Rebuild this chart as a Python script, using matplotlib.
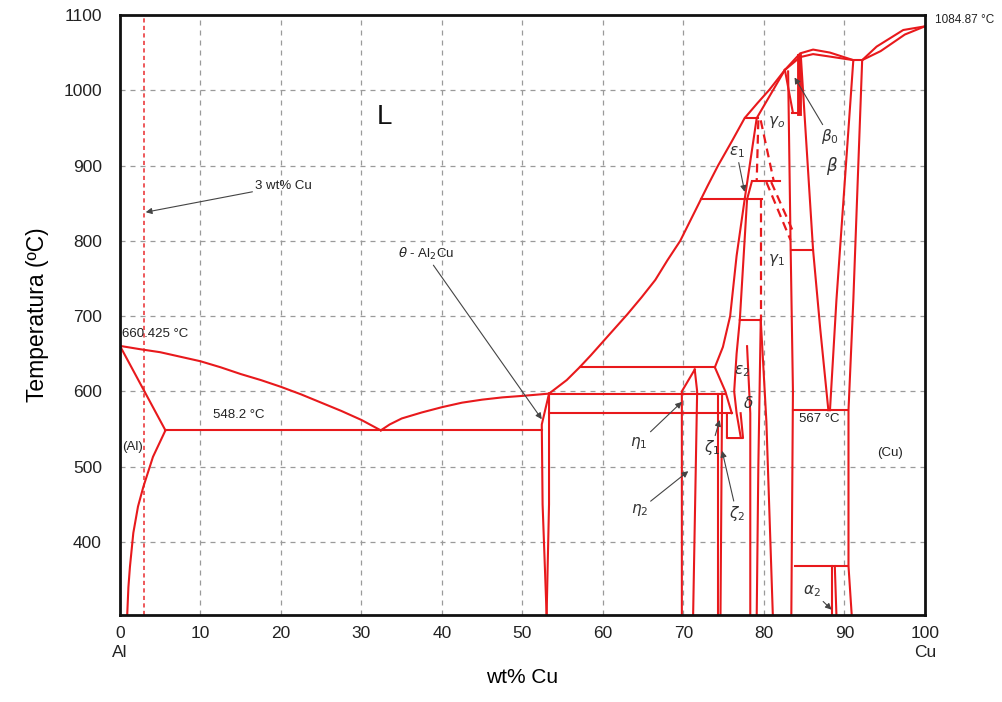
import numpy as np
import matplotlib
matplotlib.use("Agg")
import matplotlib.pyplot as plt

plt.rcParams['font.family'] = ['Liberation Sans', 'DejaVu Sans']

#   坐标: wt% Cu , 温度 ºC 
xticks = [0, 10, 20, 30, 40, 50, 60, 70, 80, 90, 100]
xticklabels = ['0\nAl', '10', '20', '30', '40', '50', '60', '70', '80', '90', '100\nCu']
yticks = [400, 500, 600, 700, 800, 900, 1000, 1100]

liq_left = [[0, 2.5, 5, 7.5, 10, 12.5, 15, 17.5, 20, 22.5, 25, 27.5, 30, 32.4],
            [660.4, 656, 652, 646, 640, 632, 623, 615, 606, 596, 585, 574, 562, 548.2]]
liq_theta = [[32.4, 33.5, 35, 37.5, 40, 42.5, 45, 47.5, 50, 53.3],
             [548.2, 556, 564, 572, 579, 585, 589, 592, 594, 597]]
al_solidus = [[0, 5.65], [660.4, 548.2]]
al_solvus = [[0.9, 1.05, 1.24, 1.66, 2.24, 2.9, 4.1, 5.65],
             [303, 340, 367, 412, 447, 473, 513, 548.2]]
eutectic_548 = [[5.65, 52.4], [548.2, 548.2]]
theta_left = [[53.3, 52.4, 52.5, 53.0], [597, 556, 450, 303]]
theta_right = [[53.3, 53.3, 53.0], [597, 450, 303]]
line_597 = [[53.3, 75.2], [597, 597]]
line_571 = [[53.3, 76.0], [571, 571]]
line_632 = [[57.1, 73.9], [632, 632]]
liq_upper = [[53.3, 55.5, 57.1, 58.5, 60, 61.5, 63, 64.8, 66.5, 68, 69.6, 71.7, 73, 74.3, 76, 77.6,
              79.2, 80.7, 82.6, 84.5, 86.1, 88.2, 91.1],
             [597, 615, 632, 648, 666, 684, 702, 725, 748, 774, 800, 845, 873, 900, 932, 963,
              983, 1001, 1027, 1049, 1054, 1050, 1040]]
beta_solidus = [[82.6, 84.5, 86.1, 88.0, 91.1], [1027, 1044, 1048, 1045, 1040]]
line_1040 = [[91.1, 92.2], [1040, 1040]]
cu_liquidus = [[92.2, 94.0, 97.3, 100], [1040, 1058, 1080, 1084.87]]
cu_solidus = [[92.2, 94.5, 97.5, 100], [1040, 1052, 1074, 1084.87]]
line_857 = [[72.2, 79.75], [855, 855]]
line_963 = [[77.6, 79.2], [963, 963]]
line_879 = [[78.5, 82.0], [879, 879]]
gamma0_left = [[79.1, 82.6], [963, 1027]]
gamma0_right = [[82.6, 83.6], [1027, 970]]
beta0_band = [[84.3, 84.3], [1046, 970]]
beta0_bottom = [[83.5, 84.3], [970, 970]]
gamma_right = [[83.0, 83.3, 83.6, 83.4], [1025, 800, 600, 303]]
beta_left = [[84.6, 86.1, 87.0, 88.0], [1042, 788, 682, 575]]
beta_right = [[91.1, 89.0, 88.2], [1040, 721, 575]]
cu_solvus = [[92.2, 91.1, 90.5, 90.5, 90.9], [1040, 721, 575, 368, 303]]
eutectoid_575 = [[83.6, 90.5], [575, 575]]
line_368 = [[83.9, 90.4], [368, 368]]
alpha2_left = [[88.4, 88.4], [368, 303]]
alpha2_right = [[88.8, 89.0], [368, 303]]
line_788 = [[83.4, 86.1], [788, 788]]
eps_left = [[79.1, 77.6, 76.6, 75.8, 74.9, 73.9], [963, 855, 780, 700, 659, 632]]
eps_right = [[78.5, 77.9, 77.0], [879, 855, 695]]
eps2_right = [[73.9, 75.2, 76.0], [632, 600, 571]]
line_695 = [[77.0, 79.6], [695, 695]]
delta_left = [[77.0, 76.6, 76.3, 76.6, 77.1], [695, 650, 600, 571, 540]]
delta_inner = [[77.9, 78.3, 78.3], [660, 571, 303]]
delta_right = [[79.6, 79.3, 79.1], [695, 500, 303]]
gamma1_curve = [[79.6, 80.3, 81.1], [695, 560, 303]]
zeta_a = [[74.3, 74.3], [597, 303]]
zeta_b = [[74.8, 74.6], [597, 303]]
box_538 = [[75.4, 75.4, 77.4, 77.1], [571, 538, 538, 571]]
eta_left = [[71.4, 69.8, 69.8], [629, 600, 303]]
eta_right = [[71.4, 71.7, 71.2], [629, 600, 303]]

solid_lines = [liq_left, liq_theta, al_solidus, al_solvus, eutectic_548, theta_left,
               theta_right, line_597, line_571, line_632, liq_upper, beta_solidus,
               line_1040, cu_liquidus, cu_solidus, line_857, line_963, line_879,
               gamma0_left, gamma0_right, beta0_bottom, gamma_right, beta_left,
               beta_right, cu_solvus, eutectoid_575, line_368, alpha2_left,
               alpha2_right, line_788, eps_left, eps_right, eps2_right, line_695,
               delta_left, delta_inner, delta_right, gamma1_curve, zeta_a, zeta_b,
               box_538, eta_left, eta_right]

#   虚线 (γ0 / γ1 转变)
dash_g0_a = [[79.6, 81.2], [960, 880]]
dash_g0_b = [[79.3, 79.1], [960, 880]]
dash_g1_a = [[80.3, 83.3], [878, 801]]
dash_g1_b = [[80.9, 83.5], [878, 815]]
dash_vert = [[79.6, 79.6], [855, 695]]
dashed_lines = [dash_g0_a, dash_g0_b, dash_g1_a, dash_g1_b, dash_vert]

alloy_wt = 3   # 3 wt% Cu

RED = '#e8191c'

fig = plt.figure(figsize=(10.03, 7.02), dpi=100)
ax = fig.add_axes([0.1196, 0.124, 0.8026, 0.8547])

for ln in solid_lines:
    ax.plot(ln[0], ln[1], color=RED, lw=1.5, solid_joinstyle='round')
ax.plot(beta0_band[0], beta0_band[1], color=RED, lw=3.5)
for ln in dashed_lines:
    ax.plot(ln[0], ln[1], color=RED, lw=1.6, linestyle=(0, (4, 2.5)))
ax.axvline(alloy_wt, color=RED, lw=1.2, linestyle=(0, (2.5, 2)), alpha=0.85)

ax.set_xlim(0, 100)
ax.set_ylim(303, 1100)
ax.set_xticks(xticks)
ax.set_xticklabels(xticklabels, fontsize=12.5, color='#222222', linespacing=1.3)
ax.set_yticks(yticks)
ax.set_yticklabels([str(t) for t in yticks], fontsize=12.5, color='#222222')
ax.tick_params(length=0, axis='y', pad=13)
ax.tick_params(length=0, axis='x', pad=8)
ax.grid(True, color='#9a9a9a', lw=0.9, linestyle=(0, (4, 4)))
ax.set_axisbelow(True)
for s in ax.spines.values():
    s.set_linewidth(2)
    s.set_color('#111111')

ax.set_xlabel('wt% Cu', fontsize=15, labelpad=6)
ax.set_ylabel('Temperatura (ºC)', fontsize=16.5, labelpad=10)

#   文字标注
txt = dict(fontsize=9.5, color='#222222')
ax.text(32.9, 965, 'L', fontsize=20, ha='center', va='center', color='#111111')
ax.text(0.3, 668, '660.425 °C', ha='left', va='bottom', **txt)
ax.text(11.5, 561, '548.2 °C', ha='left', va='bottom', **txt)
ax.text(0.3, 526, '(Al)', ha='left', va='center', **txt)
ax.text(101.2, 1093, '1084.87 °C', ha='left', va='center', fontsize=8.5,
        color='#222222', clip_on=False)
ax.text(84.3, 563, '567 °C', ha='left', va='center', **txt)
ax.text(95.6, 518, '(Cu)', ha='center', va='center', **txt)
ax.text(81.6, 958, r'$\gamma_o$', ha='center', va='center', fontsize=11, color='#333333')
ax.text(88.4, 900, r'$\beta$', ha='center', va='center', fontsize=12, color='#333333')
ax.text(81.6, 774, r'$\gamma_1$', ha='center', va='center', fontsize=11, color='#333333')
ax.text(77.3, 627, r'$\epsilon_2$', ha='center', va='center', fontsize=11, color='#333333')
ax.text(78.0, 584, r'$\delta$', ha='center', va='center', fontsize=11, color='#333333')

ann = dict(arrowstyle='-|>', color='#444444', lw=0.8, mutation_scale=9,
           shrinkA=0, shrinkB=0)
ax.annotate('3 wt% Cu', xy=(3.2, 838), xytext=(16.8, 873), ha='left', va='center',
            arrowprops=ann, **txt)
ax.annotate(r'$\theta$ - Al$_2$Cu', xy=(52.4, 563), xytext=(34.5, 782), ha='left',
            va='center', arrowprops=ann, **txt)
ax.annotate(r'$\eta_1$', xy=(69.8, 586), xytext=(64.5, 532), ha='center', va='center',
            arrowprops=ann, fontsize=11, color='#333333')
ax.annotate(r'$\eta_2$', xy=(70.6, 494), xytext=(64.5, 442), ha='center', va='center',
            arrowprops=ann, fontsize=11, color='#333333')
ax.annotate(r'$\zeta_1$', xy=(74.5, 562), xytext=(73.5, 525), ha='center', va='center',
            arrowprops=ann, fontsize=11, color='#333333')
ax.annotate(r'$\zeta_2$', xy=(74.8, 521), xytext=(76.6, 438), ha='center', va='center',
            arrowprops=ann, fontsize=11, color='#333333')
ax.annotate(r'$\epsilon_1$', xy=(77.6, 865), xytext=(76.6, 918), ha='center', va='center',
            arrowprops=ann, fontsize=11, color='#333333')
ax.annotate(r'$\beta_0$', xy=(83.8, 1017), xytext=(88.2, 938), ha='center', va='center',
            arrowprops=ann, fontsize=11, color='#333333')
ax.annotate(r'$\alpha_2$', xy=(88.4, 310), xytext=(86.0, 335), ha='center', va='center',
            arrowprops=ann, fontsize=11, color='#333333')

fig.savefig('out.png', dpi=100)
